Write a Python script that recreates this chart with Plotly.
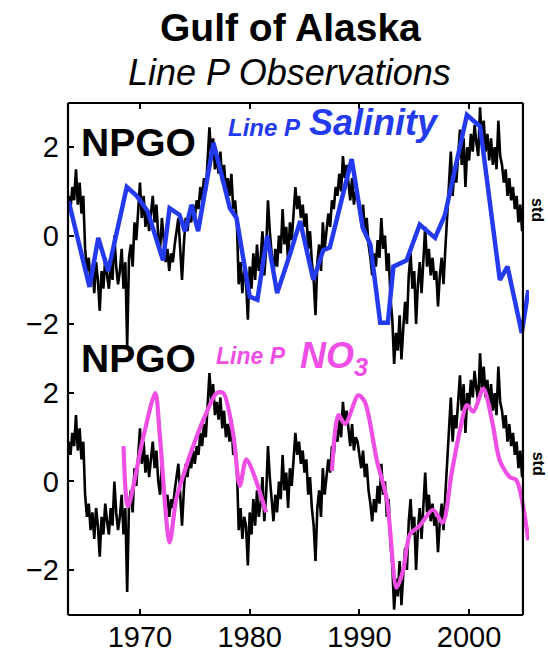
import numpy as np
import plotly.graph_objects as go

# ---------------------------------------------------------------
# NPGO index, six samples per year starting January 1963
# ---------------------------------------------------------------
npgo_start = 1963.0
npgo = [
    0.2, -0.3, 0.4, 0.9, 0.6, 1.1,        # 1963
    0.8, 1.5, 0.7, 1.2, 0.5, 0.9,         # 1964
    -0.3, -0.8, -0.5, -1.1, -0.7, -1.3,   # 1965
    -0.6, -1.0, -1.7, -0.8, -1.2, -0.5,   # 1966
    -0.9, -1.2, -0.6, -1.0, 0.0, -0.7,    # 1967
    -1.1, -0.8, -0.3, -1.2, -0.6, -2.5,   # 1968
    -0.5, -0.2, -0.7, 0.3, -0.1, 0.6,     # 1969
    1.2, 0.4, 0.9, 0.2, 0.6, 0.1,         # 1970
    0.5, 0.9, 0.3, 0.7, 0.0, -0.3,        # 1971
    0.4, -0.2, -0.6, -0.3, -0.8, -0.4,    # 1972
    -0.6, -0.2, 0.1, 0.4, -0.3, -1.0,     # 1973
    -0.2, 0.4, 0.1, 0.5, 0.3, 0.7,        # 1974
    0.4, 0.8, 0.6, 1.1, 0.8, 1.3,         # 1975
    1.0, 1.6, 2.45, 1.8, 2.2, 1.5,        # 1976
    1.8, 1.4, 1.9, 1.2, 1.6, 1.0,         # 1977
    1.3, 0.9, 1.4, 0.6, 0.8, 0.3,         # 1978
    -1.1, -0.6, -1.3, -0.8, -1.0, -1.9,   # 1979
    -0.7, -1.2, -0.4, -1.0, -0.2, -0.8,   # 1980
    -0.5, 0.1, -0.9, -0.3, 0.8, 0.1,      # 1981
    -0.5, -0.9, -0.3, -0.7, 0.0, -0.4,    # 1982
    0.6, -0.2, 0.2, -0.6, 0.3, -0.1,      # 1983
    0.5, 1.1, 0.6, 0.9, 0.4, 0.7,         # 1984
    0.2, 0.5, -0.3, 0.1, -0.6, -1.0,      # 1985
    -1.8, -0.6, -0.2, -0.8, 0.3, -0.3,    # 1986
    0.1, 0.5, 0.2, 0.8, 0.6, 1.1,         # 1987
    0.9, 1.4, 1.0, 1.8, 1.3, 1.6,         # 1988
    1.2, 0.8, 1.3, 0.7, 1.0, 0.9,         # 1989
    0.6, 0.3, 0.7, 0.1, 0.4, -0.2,        # 1990
    -0.5, -0.9, -0.4, -0.7, -0.1, -0.5,   # 1991
    0.4, -0.3, 0.0, -0.8, -0.4, -1.4,     # 1992
    -1.9, -2.9, -2.2, -2.6, -1.8, -2.8,   # 1993
    -2.1, -1.5, -2.0, -0.9, -0.4, -1.2,   # 1994
    -0.8, -2.0, -1.1, -0.6, -1.3, -0.5,   # 1995
    0.2, -0.7, -0.3, -0.9, -0.5, -1.0,    # 1996
    -0.8, -1.6, -0.9, -0.5, -1.1, -0.3,   # 1997
    0.4, 1.1, 1.9, 0.9, 1.5, 1.2,         # 1998
    1.8, 2.4, 1.6, 2.2, 1.1, 2.0,         # 1999
    1.7, 2.3, 1.9, 2.5, 2.1, 1.8,         # 2000
    2.9, 2.1, 2.6, 1.9, 2.3, 1.7,         # 2001
    2.2, 1.6, 2.0, 1.5, 2.6, 1.8,         # 2002
    1.6, 1.2, 1.5, 0.9, 1.3, 0.8,         # 2003
    1.1, 0.6, 0.9, 0.3, 0.7, 0.1,         # 2004
]
npgo_years = npgo_start + np.arange(len(npgo)) / 6.0

# Line P salinity anomaly (std units)
sal_years = [1963.5, 1965.4, 1966.2, 1967.1, 1968.8, 1969.7, 1970.7, 1972.1,
             1972.7, 1973.6, 1974.1, 1974.7, 1975.3, 1976.7, 1978.2, 1978.8,
             1980.0, 1980.7, 1981.6, 1982.5, 1983.7, 1984.6, 1985.8, 1986.7,
             1987.3, 1989.3, 1990.3, 1991.0, 1991.9, 1992.6, 1993.1, 1994.3,
             1995.5, 1996.9, 1997.8, 1999.8, 2001.0, 2002.8, 2003.5, 2004.8,
             2005.4]
sal_vals = [0.78, -1.16, -0.05, -0.8, 1.1, 0.9, 0.55, -0.56,
            0.62, 0.47, 0.1, 0.7, 0.1, 2.1, 0.62, 0.4,
            -1.38, -1.45, 0.0, -1.3, -0.4, 0.33, -1.0, -0.33,
            -0.27, 1.73, 0.18, -0.2, -1.97, -1.97, -0.7, -0.56,
            0.25, -0.05, 0.47, 2.73, 2.47, -1.0, -0.7, -2.2,
            -1.23]

# Line P nitrate anomaly (std units); no samples 1982-1987
no3_years = [1968.5, 1968.9, 1970.3, 1971.4, 1971.8, 1972.7, 1973.3, 1973.9,
             1974.8, 1976.1, 1977.0, 1977.6, 1978.5, 1979.1, 1979.7, 1981.5,
             1984.5,
             1987.5, 1988.1, 1988.7, 1989.9, 1990.5, 1991.6, 1992.5, 1993.4,
             1994.0, 1994.6, 1995.5, 1996.7, 1997.6, 1998.4, 1999.2, 1999.8,
             2000.4, 2001.3, 2002.1, 2002.8, 2003.7, 2004.3, 2005.4]
no3_vals = [0.8, -0.56, 1.0, 2.0, 1.07, -1.38, -0.4, 0.1,
            0.77, 1.58, 2.0, 2.0, 1.07, -0.1, 0.5, -0.7,
            None,
            0.24, 1.5, 1.3, 1.95, 1.8, 0.47, -0.4, -2.4,
            -2.0, -1.2, -1.0, -0.64, -0.93, 0.18, 1.2, 1.73,
            1.58, 2.1, 1.36, 0.47, 0.1, 0.03, -1.33]

y_ticks = [-2, 0, 2]
y_tick_text = ["\u22122", "0", "2"]
x_ticks = [1970, 1980, 1990, 2000]

BLUE = "rgb(36,58,238)"
MAGENTA = "rgb(238,78,228)"
FONT = "Liberation Sans, Arial, Helvetica, sans-serif"

# axis extents: plot area reaches a little past the framed box on the right
x_lo, x_frame_hi, x_hi = 1963.44, 2004.91, 2005.46
top_range = [-8.58, 3.0]
bot_range = [-3.02, 8.56]

fig = go.Figure()

fig.add_trace(go.Scatter(x=npgo_years, y=npgo, mode="lines",
                         line=dict(color="black", width=2.6),
                         yaxis="y", showlegend=False))
fig.add_trace(go.Scatter(x=sal_years, y=sal_vals, mode="lines",
                         line=dict(color=BLUE, width=4.5),
                         yaxis="y", showlegend=False))
fig.add_trace(go.Scatter(x=npgo_years, y=npgo, mode="lines",
                         line=dict(color="black", width=2.6),
                         yaxis="y2", showlegend=False))
fig.add_trace(go.Scatter(x=no3_years, y=no3_vals, mode="lines",
                         line=dict(color=MAGENTA, width=4.2, shape="spline",
                                   smoothing=0.8),
                         connectgaps=False, yaxis="y2", showlegend=False))

L, R, T, B = 68, 19, 103, 41
W, H = 548, 665
pw, ph = W - L - R, H - T - B


def px(xp):
    return (xp - L) / pw


def py(yp):
    return (H - B - yp) / ph


frame_right = (x_frame_hi - x_lo) / (x_hi - x_lo)

# box around the data, drawn as four separate edges
frame_line = dict(color="black", width=2.2)
edges = [(0, 0, 0, 1), (frame_right, frame_right, 0, 1),
         (0, frame_right, 0, 0), (0, frame_right, 1, 1)]
for x0, x1, y0, y1 in edges:
    fig.add_shape(type="line", xref="paper", yref="paper",
                  x0=x0, x1=x1, y0=y0, y1=y1, line=frame_line, layer="above")

ann = []
ann.append(dict(text="<b>Gulf of Alaska</b>", x=px(290), y=py(26),
                font=dict(size=39, color="black")))
ann.append(dict(text="<i>Line P Observations</i>", x=px(289), y=py(72),
                font=dict(size=36, color="black")))
ann.append(dict(text="<b>NPGO</b>", x=px(79), y=py(143), xanchor="left",
                font=dict(size=39, color="black")))
ann.append(dict(text="<b><i>Line P</i></b>", x=px(226), y=py(128),
                xanchor="left", font=dict(size=24, color=BLUE)))
ann.append(dict(text="<b><i>Salinity</i></b>", x=px(307), y=py(123),
                xanchor="left", font=dict(size=36, color=BLUE)))
ann.append(dict(text="<b>NPGO</b>", x=px(79), y=py(363), xanchor="left",
                font=dict(size=39, color="black")))
ann.append(dict(text="<b><i>Line P</i></b>", x=px(214), y=py(360),
                xanchor="left", font=dict(size=23, color=MAGENTA)))
ann.append(dict(text="<b><i>NO<sub>3</sub></i></b>", x=px(298), y=py(362),
                xanchor="left", font=dict(size=36, color=MAGENTA)))
ann.append(dict(text="<b>std</b>", x=px(538), y=py(212), textangle=90,
                font=dict(size=16, color="black")))
ann.append(dict(text="<b>std</b>", x=px(538), y=py(470), textangle=90,
                font=dict(size=16, color="black")))
for a in ann:
    a.update(xref="paper", yref="paper", showarrow=False)
    a.setdefault("xanchor", "center")
    a.setdefault("yanchor", "middle")

axis_common = dict(showgrid=False, zeroline=False, showline=False,
                   ticks="inside", ticklen=6, tickwidth=1.6, tickcolor="black",
                   tickfont=dict(size=29, color="black", family=FONT))

fig.update_layout(
    width=W, height=H,
    margin=dict(l=L, r=R, t=T, b=B, pad=0),
    paper_bgcolor="white", plot_bgcolor="white",
    font=dict(family=FONT, color="black"),
    annotations=ann,
    xaxis=dict(range=[x_lo, x_hi], tickvals=x_ticks, mirror="ticks",
               ticklabelstandoff=2, **axis_common),
    yaxis=dict(range=top_range, tickvals=y_ticks, ticktext=y_tick_text,
               ticklabelstandoff=8, **axis_common),
    yaxis2=dict(range=bot_range, tickvals=y_ticks, overlaying="y", side="left",
                ticktext=y_tick_text, ticklabelstandoff=8, **axis_common),
)

fig.write_html("out.html")
